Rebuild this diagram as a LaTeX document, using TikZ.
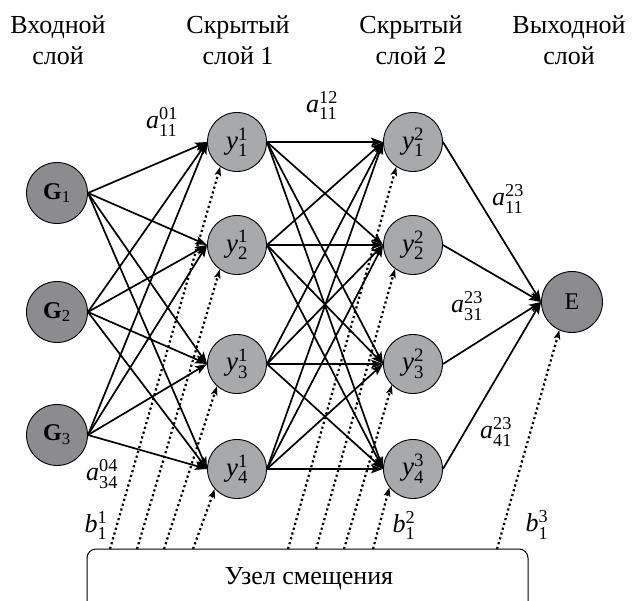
\documentclass[tikz,border=0pt]{standalone}
\usepackage{fontspec}
\setmainfont{Liberation Serif}
\usepackage{amsmath}
\usetikzlibrary{arrows.meta}
\definecolor{outerfill}{RGB}{140,140,142}
\definecolor{innerfill}{RGB}{168,169,171}
% letter with superscript and subscript indices
\newcommand\idx[3]{\textit{#1}$^{\text{#2}}_{\text{#3}}$}
\begin{document}
\begin{tikzpicture}[x=1pt,y=-1pt,
  neuron/.style={circle, draw=black, line width=0.9pt, minimum size=59pt,
    inner sep=0pt, fill=innerfill, font=\fontsize{27}{27}\selectfont},
  outerneuron/.style={neuron, fill=outerfill, minimum size=61pt,
    font=\fontsize{24}{24}\selectfont},
  wire/.style={line width=1.7pt, -{Stealth[length=12pt,width=8.5pt,inset=2.5pt]}},
  bias/.style={line width=2.2pt, dash pattern=on 2.2pt off 2.8pt,
    -{Stealth[length=9pt,width=6.5pt,inset=2pt]}},
  weight/.style={font=\fontsize{26}{26}\selectfont, inner sep=0pt},
  header/.style={font=\fontsize{26}{31}\selectfont, inner sep=0pt, anchor=base}]
\useasboundingbox (0,0) rectangle (632,601);
\clip (0,0) rectangle (632,601);

% layer titles
\node[header] (t1a) at (58,34) {Входной};
\node[header] (t1b) at (58,65) {слой};
\node[header] (t2a) at (238,34) {Скрытый};
\node[header] (t2b) at (238,65) {слой 1};
\node[header] (t3a) at (411,34) {Скрытый};
\node[header] (t3b) at (411,65) {слой 2};
\node[header] (t4a) at (569,34) {Выходной};
\node[header] (t4b) at (569,65) {слой};

% bias node box
\draw[line width=1pt, rounded corners=9pt] (87,549) rectangle (528,630);
\node[header] (bn) at (309,584) {Узел смещения};

% input layer
\node[outerneuron] (g1) at (57,193) {\textbf{G}$_{\text{1}}$};
\node[outerneuron] (g2) at (57,312) {\textbf{G}$_{\text{2}}$};
\node[outerneuron] (g3) at (57,435) {\textbf{G}$_{\text{3}}$};

% hidden layer 1
\node[neuron] (h1) at (237,142) {\idx{y}{1}{1}};
\node[neuron] (h2) at (237,245) {\idx{y}{1}{2}};
\node[neuron] (h3) at (237,364) {\idx{y}{1}{3}};
\node[neuron] (h4) at (237,469) {\idx{y}{1}{4}};

% hidden layer 2
\node[neuron] (k1) at (413,142) {\idx{y}{2}{1}};
\node[neuron] (k2) at (413,245) {\idx{y}{2}{2}};
\node[neuron] (k3) at (413,364) {\idx{y}{2}{3}};
\node[neuron] (k4) at (413,469) {\idx{y}{3}{4}};

% output
\node[outerneuron] (e) at (572,302) {E};

% full connections
\foreach \i in {1,2,3}
  \foreach \j in {1,2,3,4}
    \draw[wire] (g\i.east) -- (h\j.west);
\foreach \i in {1,2,3,4}
  \foreach \j in {1,2,3,4}
    \draw[wire] (h\i.east) -- (k\j.west);
\foreach \i in {1,2,3,4}
  \draw[wire] (k\i.east) -- (e.west);

% bias connections
\coordinate (b1) at (110,549);
\coordinate (b2) at (137,549);
\coordinate (b3) at (164,549);
\coordinate (b4) at (193,549);
\coordinate (c1) at (288,549);
\coordinate (c2) at (316,549);
\coordinate (c3) at (344,549);
\coordinate (c4) at (373,549);
\coordinate (d1) at (497,549);
\draw[bias] (b1) -- (h1.236);
\draw[bias] (b2) -- (h2.235);
\draw[bias] (b3) -- (h3.228);
\draw[bias] (b4) -- (h4.222);
\draw[bias] (c1) -- (k1.236);
\draw[bias] (c2) -- (k2.233);
\draw[bias] (c3) -- (k3.225);
\draw[bias] (c4) -- (k4.218);
\draw[bias] (d1) -- (e.246);

% weight and bias labels
\node[weight] (w01) at (162,122) {\idx{a}{01}{11}};
\node[weight] (w12) at (322,105) {\idx{a}{12}{11}};
\node[weight] (w11) at (508,199) {\idx{a}{23}{11}};
\node[weight] (w31) at (467,306) {\idx{a}{23}{31}};
\node[weight] (w41) at (496,432) {\idx{a}{23}{41}};
\node[weight] (w04) at (102,474) {\idx{a}{04}{34}};
\node[weight] (bb1) at (96,525) {\idx{b}{1}{1}};
\node[weight] (bb2) at (404,525) {\idx{b}{2}{1}};
\node[weight] (bb3) at (537,525) {\idx{b}{3}{1}};
\end{tikzpicture}
\end{document}
